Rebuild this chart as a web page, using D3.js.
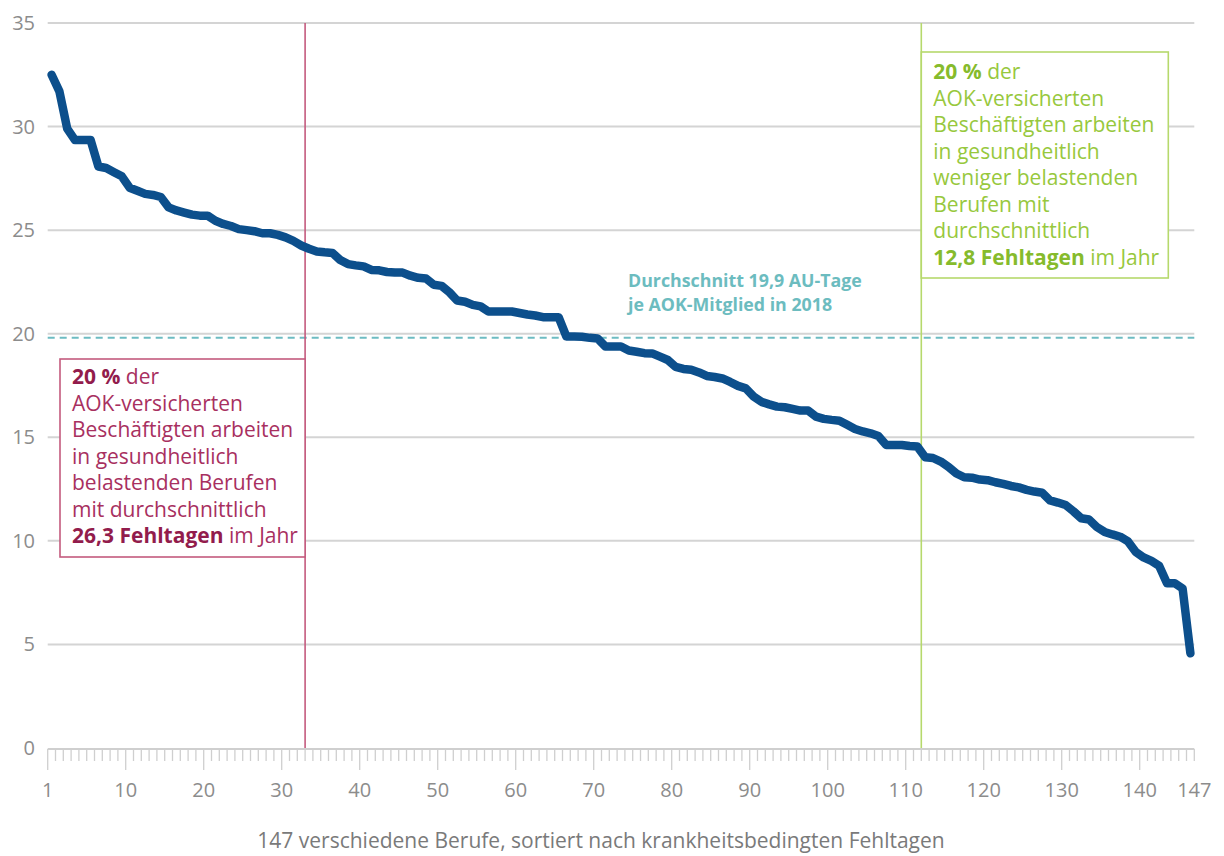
<!DOCTYPE html>
<html>
<head>
<meta charset="utf-8">
<script src="https://cdn.jsdelivr.net/npm/d3@7"></script>
<style>
body { margin:0; background:#fff; }
text { font-family: "Open Sans", Lato, sans-serif; }
</style>
</head>
<body>
<div id="viz"></div>
<script>
// Fehltage je Beruf (sortiert)
var fehltage = [
	32.5, 31.7, 29.9, 29.35, 29.35, 29.35, 28.07, 28.0, 27.8, 27.6,
	27.05, 26.9, 26.75, 26.7, 26.6, 26.1, 25.95, 25.85, 25.75, 25.7,
	25.7, 25.45, 25.3, 25.2, 25.05, 25.0, 24.95, 24.85, 24.85, 24.77,
	24.65, 24.48, 24.26, 24.1, 23.97, 23.93, 23.9, 23.56, 23.36, 23.3,
	23.25, 23.08, 23.06, 22.98, 22.95, 22.95, 22.8, 22.7, 22.67, 22.36,
	22.31, 22.0, 21.6, 21.54, 21.39, 21.32, 21.07, 21.07, 21.07, 21.07,
	21.0, 20.93, 20.88, 20.8, 20.8, 20.8, 19.86, 19.86, 19.85, 19.8,
	19.77, 19.38, 19.38, 19.38, 19.19, 19.13, 19.06, 19.05, 18.89, 18.73,
	18.4, 18.3, 18.26, 18.13, 17.96, 17.91, 17.84, 17.67, 17.48, 17.36,
	16.97, 16.71, 16.59, 16.48, 16.45, 16.37, 16.29, 16.29, 16.0, 15.89,
	15.84, 15.8, 15.6, 15.4, 15.28, 15.19, 15.06, 14.63, 14.63, 14.63,
	14.58, 14.55, 14.04, 14.0, 13.83, 13.57, 13.25, 13.07, 13.05, 12.96,
	12.93, 12.83, 12.75, 12.65, 12.58, 12.46, 12.38, 12.32, 11.95, 11.85,
	11.73, 11.43, 11.09, 11.03, 10.67, 10.43, 10.31, 10.2, 9.97, 9.46,
	9.2, 9.03, 8.79, 7.95, 7.95, 7.7, 4.57
];
var yTicks = [0, 5, 10, 15, 20, 25, 30, 35];
var xTickPos = [0, 10, 20, 30, 40, 50, 60, 70, 80, 90, 100, 110, 120, 130, 140, 147];
var xTickLabels = ['1', '10', '20', '30', '40', '50', '60', '70', '80', '90', '100', '110', '120', '130', '140', '147'];
var durchschnitt = 19.8;
var grenzeOben = 33;   // 20 % belastende Berufe
var grenzeUnten = 112; // 20 % weniger belastende Berufe
var achsenTitel = '147 verschiedene Berufe, sortiert nach krankheitsbedingten Fehltagen';
var mittelText = ['Durchschnitt 19,9 AU-Tage', 'je AOK-Mitglied in 2018'];
var boxLinks = [
	[['20 %', true], [' der', false]],
	[['AOK-versicherten', false]],
	[['Beschäftigten arbeiten', false]],
	[['in gesundheitlich', false]],
	[['belastenden Berufen', false]],
	[['mit durchschnittlich', false]],
	[['26,3 Fehltagen', true], [' im Jahr', false]]
];
var boxRechts = [
	[['20 %', true], [' der', false]],
	[['AOK-versicherten', false]],
	[['Beschäftigten arbeiten', false]],
	[['in gesundheitlich', false]],
	[['weniger belastenden', false]],
	[['Berufen mit', false]],
	[['durchschnittlich', false]],
	[['12,8 Fehltagen', true], [' im Jahr', false]]
];

var svg = d3.select('#viz').append('svg')
				.attr('width', 1224)
				.attr('height', 856);

var x = d3.scaleLinear().domain([0, 147]).range([47.7, 1194.3]);
var y = d3.scaleLinear().domain([0, 35]).range([748, 23]);

// Gitterlinien
svg.append('g')
	.selectAll('line')
	.data(yTicks.filter(d => d > 0))
	.enter().append('line')
		.attr('x1', x(0)).attr('x2', x(147))
		.attr('y1', d => y(d)).attr('y2', d => y(d))
		.style('stroke', '#d4d4d4')
		.style('stroke-width', 2);

svg.append('g')
	.selectAll('text')
	.data(yTicks)
	.enter().append('text')
		.attr('x', 35)
		.attr('y', d => y(d) + 7)
		.attr('text-anchor', 'end')
		.style('font-size', '20px')
		.style('fill', '#8c8c8c')
		.text(d => d);

// x-Achse
var xAxis = svg.append('g').attr('transform', 'translate(0,' + (y(0) + 1) + ')');
xAxis.append('line')
	.attr('x1', x(0)).attr('x2', x(147))
	.style('stroke', '#cfcfcf')
	.style('stroke-width', 2);
xAxis.selectAll('.minor')
	.data(d3.range(0, 148))
	.enter().append('line')
		.attr('class', 'minor')
		.attr('x1', d => x(d)).attr('x2', d => x(d))
		.attr('y1', 0)
		.attr('y2', d => (d % 10 === 0 ? 21 : 12))
		.style('stroke', '#cfcfcf')
		.style('stroke-width', 1.3);
xAxis.selectAll('.lbl')
	.data(xTickPos)
	.enter().append('text')
		.attr('class', 'lbl')
		.attr('x', d => x(d))
		.attr('y', 48)
		.attr('text-anchor', 'middle')
		.style('font-size', '20px')
		.style('fill', '#8c8c8c')
		.text((d, i) => xTickLabels[i]);

svg.append('text')
	.attr('x', 601)
	.attr('y', 848)
	.attr('text-anchor', 'middle')
	.style('font-size', '21px')
	.style('fill', '#7a7a7a')
	.text(achsenTitel);

// Durchschnitt
svg.append('line')
	.attr('x1', x(0)).attr('x2', x(147))
	.attr('y1', y(durchschnitt)).attr('y2', y(durchschnitt))
	.style('stroke', '#6dbcc2')
	.style('stroke-width', 2)
	.style('stroke-dasharray', '7,5');

svg.append('g')
	.selectAll('text')
	.data(mittelText)
	.enter().append('text')
		.attr('x', 628)
		.attr('y', (d, i) => 287 + i * 24)
		.style('font-size', '17.8px')
		.style('font-weight', 'bold')
		.style('fill', '#6cbcbf')
		.text(d => d);

// senkrechte Grenzlinien
svg.append('line')
	.attr('x1', x(grenzeOben)).attr('x2', x(grenzeOben))
	.attr('y1', y(35)).attr('y2', y(0))
	.style('stroke', '#c45b7e')
	.style('stroke-width', 1.6);
svg.append('line')
	.attr('x1', x(grenzeUnten)).attr('x2', x(grenzeUnten))
	.attr('y1', y(35)).attr('y2', y(0))
	.style('stroke', '#b6d96c')
	.style('stroke-width', 1.6);

var drawBox = function(lines, bx, by, bw, bh, oben, farbe, farbeBold, linie) {
	svg.append('rect')
		.attr('x', bx).attr('y', by)
		.attr('width', bw).attr('height', bh)
		.style('fill', '#fff')
		.style('stroke', linie)
		.style('stroke-width', 1.6);
	var t = svg.append('text')
				.style('font-size', '21px')
				.style('fill', farbe);
	lines.forEach(function(parts, i) {
		parts.forEach(function(p, j) {
			var ts = t.append('tspan').text(p[0]);
			if (j === 0) ts.attr('x', bx + 12).attr('y', by + oben + i * 26.5);
			if (p[1]) ts.style('font-weight', 'bold').style('fill', farbeBold);
		});
	});
}
drawBox(boxLinks, 60, 359, x(grenzeOben) - 60, 198, 25, '#a8305f', '#921c4c', '#c45b7e');
drawBox(boxRechts, x(grenzeUnten), 52, 247, 226, 27, '#97c83d', '#86bb2c', '#b6d96c');

// Kurve
var kurve = d3.line()
				.x((d, i) => x(i + 0.5))
				.y(d => y(d));
svg.append('path')
	.datum(fehltage)
	.attr('d', kurve)
	.style('fill', 'none')
	.style('stroke', '#0c4f8c')
	.style('stroke-width', 8.5)
	.style('stroke-linejoin', 'round')
	.style('stroke-linecap', 'round');
</script>
</body>
</html>
